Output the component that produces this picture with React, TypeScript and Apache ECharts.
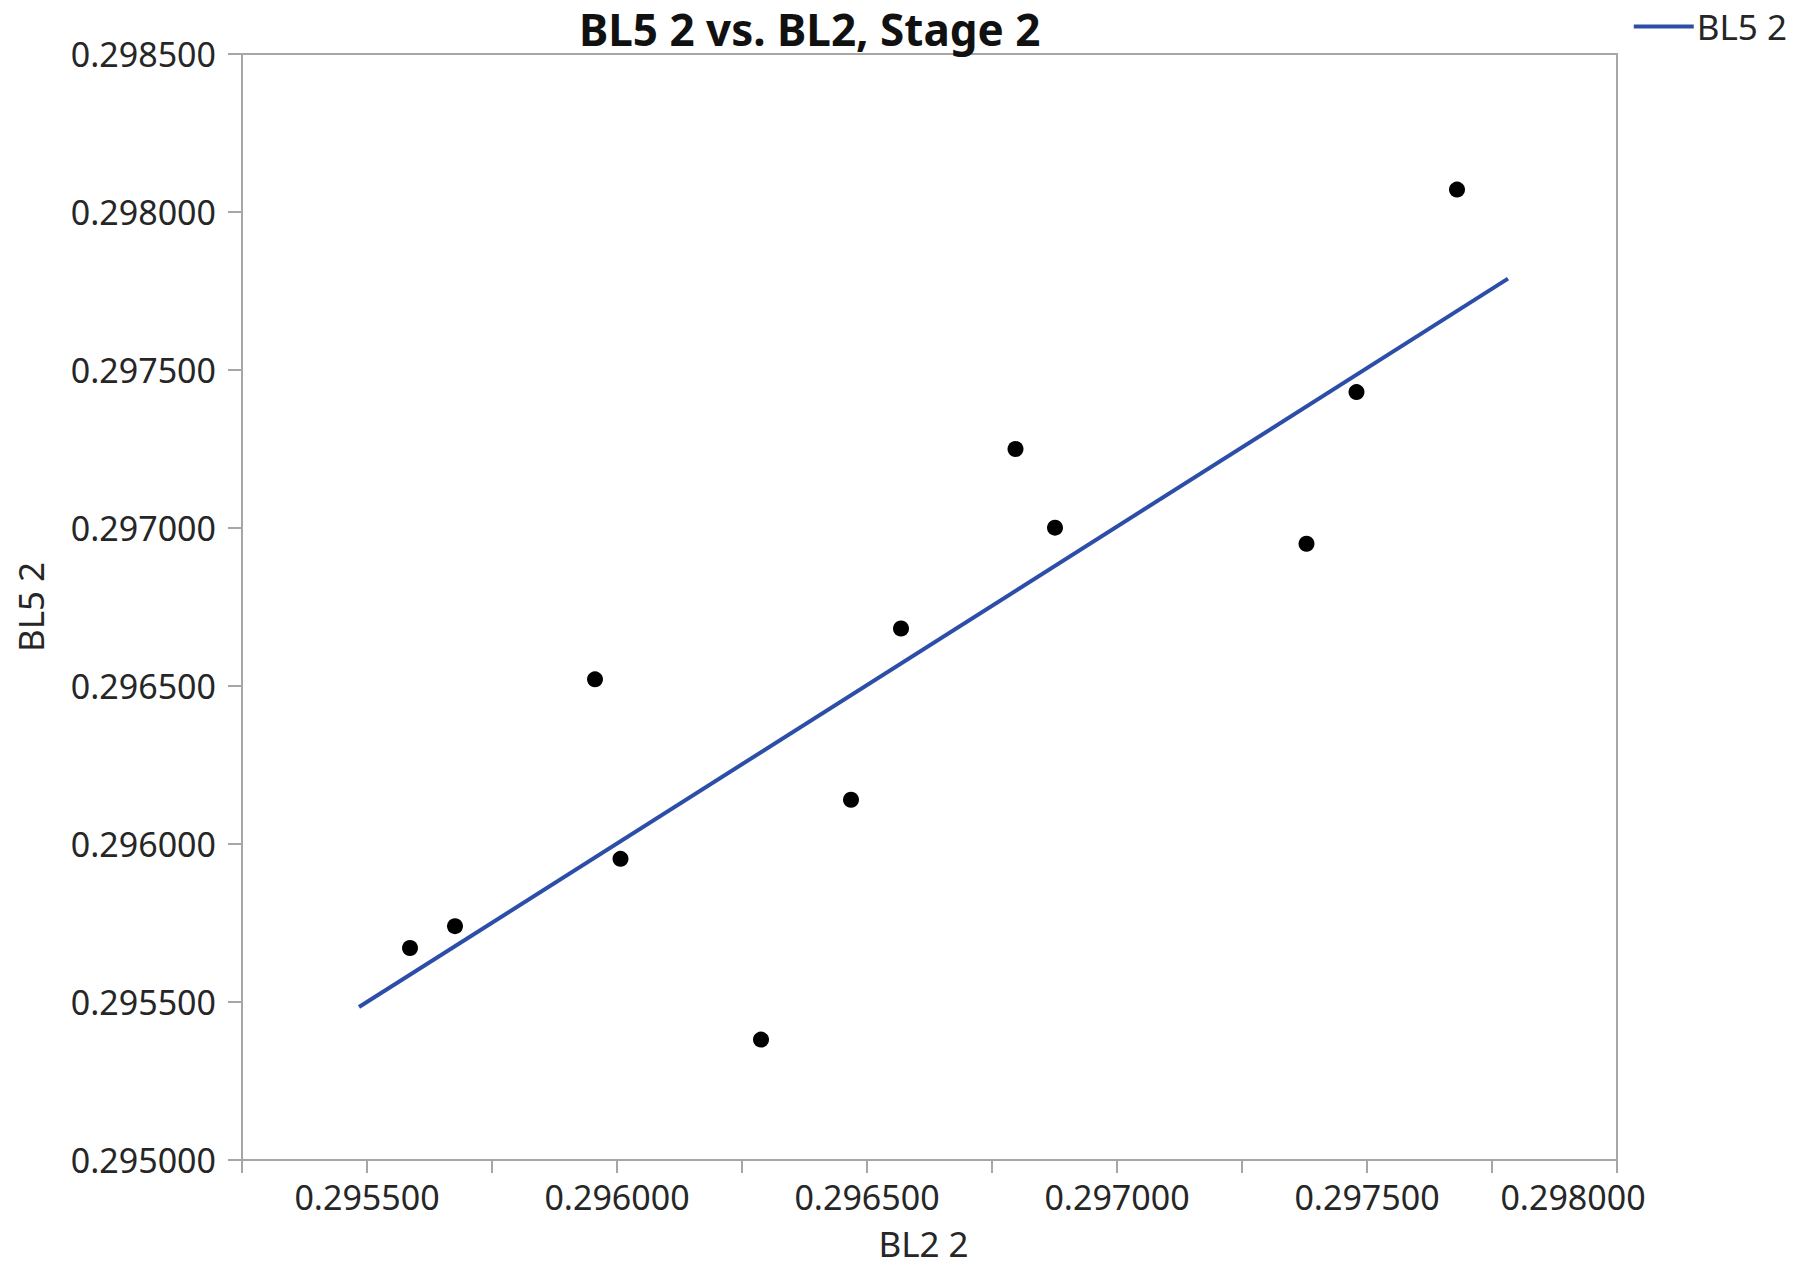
import React, { useEffect, useRef } from "react";
import * as echarts from "echarts";

const titleText = "BL5 2 vs. BL2, Stage 2";
const xName = "BL2 2";
const yName = "BL5 2";
const seriesName = "BL5 2";

// observed points (BL2 2, BL5 2)
const bl2Values = [
  0.295586, 0.295676, 0.295956, 0.296007, 0.296288, 0.296468,
  0.296568, 0.296797, 0.296876, 0.297379, 0.297479, 0.29768,
];
const bl5Values = [
  0.295671, 0.29574, 0.296521, 0.295953, 0.295381, 0.29614,
  0.296682, 0.29725, 0.297001, 0.29695, 0.29743, 0.298071,
];

// fitted line end points
const fitX = [0.295484, 0.297782];
const fitY = [0.295484, 0.297789];

const xMin = 0.29525;
const xMax = 0.298;
const xStep = 0.00025;
const yMin = 0.295;
const yMax = 0.2985;
const yStep = 0.0005;

const FONT = "'Noto Sans', 'Open Sans', sans-serif";
const AXIS_GRAY = "#a6a6a6";
const TEXT = "#262626";
const LINE_BLUE = "#2d4ea8";

export default function App() {
  const ref = useRef<HTMLDivElement>(null);

  useEffect(() => {
    if (!ref.current) return;
    const chart = echarts.init(ref.current, null, { renderer: "svg" });

    const points = bl2Values.map((x, i) => [x, bl5Values[i]]);
    const fit = fitX.map((x, i) => [x, fitY[i]]);

    chart.setOption({
      animation: false,
      backgroundColor: "#ffffff",
      textStyle: { fontFamily: FONT },
      title: {
        text: titleText,
        left: 579,
        top: 5,
        padding: 0,
        textStyle: {
          fontFamily: FONT,
          fontWeight: "bold",
          fontSize: 44,
          lineHeight: 48,
          color: "#111",
        },
      },
      legend: {
        data: [seriesName],
        right: 24,
        top: 4,
        icon: "rect",
        itemWidth: 60,
        itemHeight: 4,
        itemGap: 6,
        textStyle: { fontFamily: FONT, fontSize: 35, color: TEXT, padding: [0, 0, 0, -2] },
      },
      grid: {
        left: 242,
        right: 199,
        top: 54,
        bottom: 106,
        show: true,
        borderColor: AXIS_GRAY,
        borderWidth: 2,
        containLabel: false,
      },
      xAxis: {
        type: "value",
        min: xMin,
        max: xMax,
        interval: xStep,
        name: xName,
        nameLocation: "middle",
        nameGap: 66,
        nameTextStyle: { fontFamily: FONT, fontSize: 35, color: TEXT, padding: [0, 12, 0, 0] },
        axisLine: { show: true, lineStyle: { color: AXIS_GRAY, width: 2 } },
        axisTick: { show: true, length: 13, lineStyle: { color: AXIS_GRAY, width: 2 } },
        splitLine: { show: false },
        axisLabel: {
          fontFamily: FONT,
          fontSize: 34,
          color: TEXT,
          margin: 20,
          formatter: (v: number) => {
            if (Math.round(v * 1e6) % 500 !== 0) return "";
            if (Math.abs(v - xMax) < 1e-9) return "{last|" + v.toFixed(6) + "}";
            return v.toFixed(6);
          },
          rich: {
            last: {
              fontFamily: FONT,
              fontSize: 34,
              color: TEXT,
              padding: [0, 88, 0, 0],
            },
          },
        },
      },
      yAxis: {
        type: "value",
        min: yMin,
        max: yMax,
        interval: yStep,
        name: yName,
        nameLocation: "middle",
        nameGap: 194,
        nameRotate: 90,
        nameTextStyle: { fontFamily: FONT, fontSize: 35, color: TEXT },
        axisLine: { show: true, lineStyle: { color: AXIS_GRAY, width: 2 } },
        axisTick: { show: true, length: 14, lineStyle: { color: AXIS_GRAY, width: 2 } },
        splitLine: { show: false },
        axisLabel: {
          fontFamily: FONT,
          fontSize: 34,
          color: TEXT,
          margin: 26,
          formatter: (v: number) => v.toFixed(6),
        },
      },
      series: [
        {
          name: seriesName,
          type: "line",
          data: fit,
          showSymbol: false,
          symbol: "none",
          lineStyle: { color: LINE_BLUE, width: 4 },
          itemStyle: { color: LINE_BLUE },
          z: 2,
        },
        {
          name: "points",
          type: "scatter",
          data: points,
          symbol: "circle",
          symbolSize: 16,
          itemStyle: { color: "#000000", opacity: 1 },
          z: 3,
        },
      ],
    });

    return () => chart.dispose();
  }, []);

  return (
    <div
      ref={ref}
      style={{ position: "absolute", left: 0, top: 0, width: 1816, height: 1266 }}
    />
  );
}
